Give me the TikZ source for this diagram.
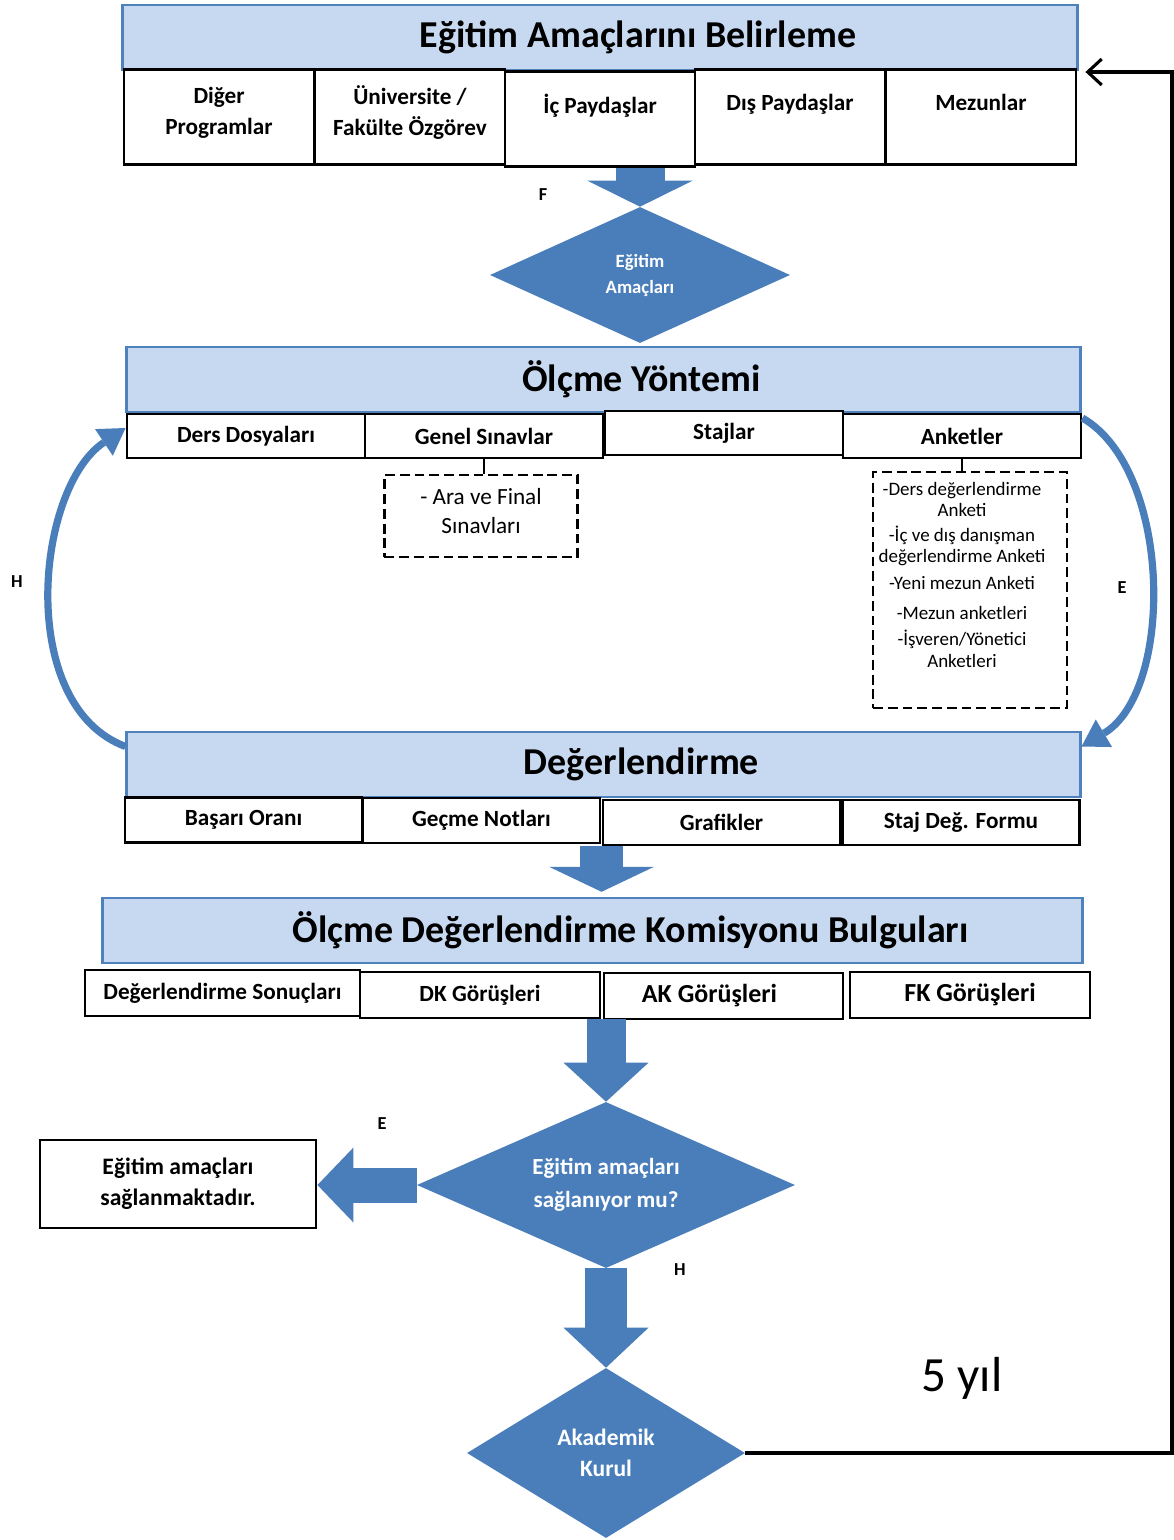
\documentclass[tikz,border=0pt]{standalone}
\usepackage{fontspec}
\setmainfont{Carlito}
\usetikzlibrary{shapes.geometric,arrows.meta,positioning,calc}

\definecolor{acikmavi}{RGB}{198,217,241}
\definecolor{kenarmavi}{RGB}{79,129,189}
\definecolor{koyumavi}{RGB}{74,126,187}

\tikzset{
  baslik/.style={rectangle, draw=kenarmavi, line width=2pt, fill=acikmavi, minimum height=1.625cm,
    font=\fontsize{27}{31}\selectfont\bfseries, execute at begin node={\hspace{1.9cm}}},
  kutu/.style={rectangle, draw=black, line width=2pt, fill=white, align=center, inner sep=2pt,
    font=\fontsize{16.5}{22}\selectfont\bfseries},
  ust/.style={kutu, minimum width=4.75cm, minimum height=2.375cm},
  orta/.style={kutu, minimum width=5.95cm, minimum height=1.1cm},
  kesik/.style={rectangle, draw=black, line width=2pt, dash pattern=on 7pt off 3.5pt},
  karar/.style={diamond, aspect=2, fill=koyumavi, inner sep=0pt, align=center, text=white},
  harf/.style={font=\fontsize{13}{15}\selectfont\bfseries},
  blok/.style n args={3}{draw=koyumavi, line width=#1, -{Triangle[width=#2, length=#3, line width=0pt]}},
  egri/.style={draw=koyumavi, line width=0.18cm, -{Triangle[width=0.8cm, length=0.65cm, line width=0pt]}},
  geri/.style={draw=black, line width=2.2pt, -{Straight Barb[length=0.35cm, width=0.65cm]}}
}

\begin{document}
\begin{tikzpicture}[x=0.025cm, y=-0.025cm]
  \useasboundingbox[fill=white] (0,0) rectangle (1174,1540);

  % egitim amaclari
  \node[baslik, minimum width=23.85cm] (belirleme) at (600,37.5) {Eğitim Amaçlarını Belirleme};
  \node[ust, text depth=0.3cm] (diger) at (219,117) {Diğer\\Programlar};
  \node[ust, text depth=0.3cm] (universite) at (410,117) {Üniversite /\\Fakülte Özgörev};
  \node[ust, text depth=0.75cm] (ic) at (600,119) {İç Paydaşlar};
  \node[ust, text depth=0.75cm] (dis) at (790,117) {Dış Paydaşlar};
  \node[ust, text depth=0.75cm] (mezun) at (981,117) {Mezunlar};

  \node[karar, minimum width=7.5cm, minimum height=3.4cm, font=\fontsize{13.3}{18.5}\selectfont\bfseries] (amac) at (640,275) {Eğitim\\Amaçları};

  % olcme yontemi
  \node[baslik, minimum width=23.825cm] (olcme) at (603.5,379.5) {Ölçme Yöntemi};
  \node[orta] (ders) at (246,436) {Ders Dosyaları};
  \node[orta] (genel) at (484,436) {Genel Sınavlar};
  \node[orta] (staj) at (724,433) {Stajlar};
  \node[orta] (anket) at (962,436) {Anketler};

  \node[kesik, minimum width=4.825cm, minimum height=2.05cm, align=center, font=\fontsize{16.5}{21}\selectfont] (arafinal) at (481,516) {- Ara ve Final\\Sınavları\\[-14pt]\mbox{}};
  \node[kesik, minimum width=4.85cm, minimum height=5.9cm] (anketkutu) at (970,590) {};
  \node[anchor=north, align=center, inner sep=0pt, font=\fontsize{13.5}{15}\selectfont] (anketliste) at (962,482)
    {-Ders değerlendirme\\Anketi\\[3pt]-İç ve dış danışman\\değerlendirme Anketi\\[4pt]-Yeni mezun Anketi\\[6pt]-Mezun anketleri\\[4pt]-İşveren/Yönetici\\Anketleri};

  % degerlendirme
  \node[baslik, minimum width=23.825cm] (deg) at (603.5,764.5) {Değerlendirme};
  \node[orta, minimum width=5.925cm, minimum height=1.125cm] (basari) at (243.5,820) {Başarı Oranı};
  \node[orta, minimum width=5.925cm, minimum height=1.125cm] (gecme) at (481.5,820.5) {Geçme Notları};
  \node[orta, minimum width=5.925cm, minimum height=1.125cm] (grafik) at (721.5,822.5) {Grafikler};
  \node[orta, minimum width=5.925cm, minimum height=1.125cm] (stajform) at (961,822.5) {Staj Değ. Formu};

  % komisyon
  \node[baslik, minimum width=24.475cm] (odk) at (592.5,930.5) {Ölçme Değerlendirme Komisyonu Bulguları};
  \node[kutu, minimum width=6.875cm, minimum height=1.15cm] (sonuclar) at (222.5,993) {Değerlendirme Sonuçları};
  \node[kutu, minimum width=6cm, minimum height=1.15cm] (dk) at (480,995) {DK Görüşleri};
  \node[kutu, minimum width=5.975cm, minimum height=1.15cm, font=\fontsize{18.5}{22}\selectfont\bfseries] (ak) at (723.5,996) {AK Görüşleri\hspace{0.7cm}};
  \node[kutu, minimum width=6cm, minimum height=1.15cm, font=\fontsize{18.5}{22}\selectfont\bfseries] (fk) at (970,995) {FK Görüşleri};

  \node[karar, minimum width=9.45cm, minimum height=4.15cm, font=\fontsize{16.4}{23}\selectfont\bfseries] (sorgu) at (606,1185) {Eğitim amaçları\\sağlanıyor mu?};
  \node[kutu, minimum width=6.9cm, minimum height=2.2cm, font=\fontsize{16.8}{22}\selectfont\bfseries] (sonuc) at (178,1184) {Eğitim amaçları\\sağlanmaktadır.};
  \node[karar, minimum width=6.95cm, minimum height=4.25cm, font=\fontsize{16.7}{22}\selectfont\bfseries] (kurul) at (606,1453) {Akademik\\Kurul};

  \coordinate (donus) at (1172,72);

  % oklar
  \draw[blok={1.225cm}{2.625cm}{0.65cm}] (ic.south -| amac.north) -- (amac.north);
  \draw[blok={1.075cm}{2.625cm}{0.625cm}, shorten >=0.12cm] (grafik.south west) -- (grafik.south west |- odk.north);
  \draw[blok={0.975cm}{2.125cm}{0.975cm}] (sorgu.north |- dk.south) -- (sorgu.north);
  \draw[blok={1.05cm}{2.125cm}{1cm}] (sorgu.south) -- (kurul.north);
  \draw[blok={0.875cm}{1.875cm}{0.9cm}] (sorgu.west) -- (sorgu.west -| sonuc.east);

  \draw[line width=2pt] (genel.south) -- (genel.south |- arafinal.north);
  \draw[line width=2pt] (anket.south) -- (anket.south |- anketkutu.north);

  \draw[egri] ([yshift=0.45cm]deg.west) .. controls +(-110,-41) and +(-90,60) .. ([yshift=0.2cm]ders.west);
  \draw[egri] ([yshift=0.45cm]anket.east) .. controls +(90,52) and +(93,-55) .. ([yshift=0.45cm]deg.east);

  \draw[geri, shorten >=0.2cm] (kurul.east) -| (donus) -- (donus -| mezun.east);

  % etiketler
  \node[harf] (f) at (543,195) {F};
  \node[harf] (hsol) at (17,582) {H};
  \node[harf] (esag) at (1122,588) {E};
  \node[harf] (esol) at (382,1124) {E};
  \node[harf] (halt) at (680,1270) {H};
  \node[font=\fontsize{35}{40}\selectfont] (yil) at (962,1378) {5 yıl};
\end{tikzpicture}
\end{document}
